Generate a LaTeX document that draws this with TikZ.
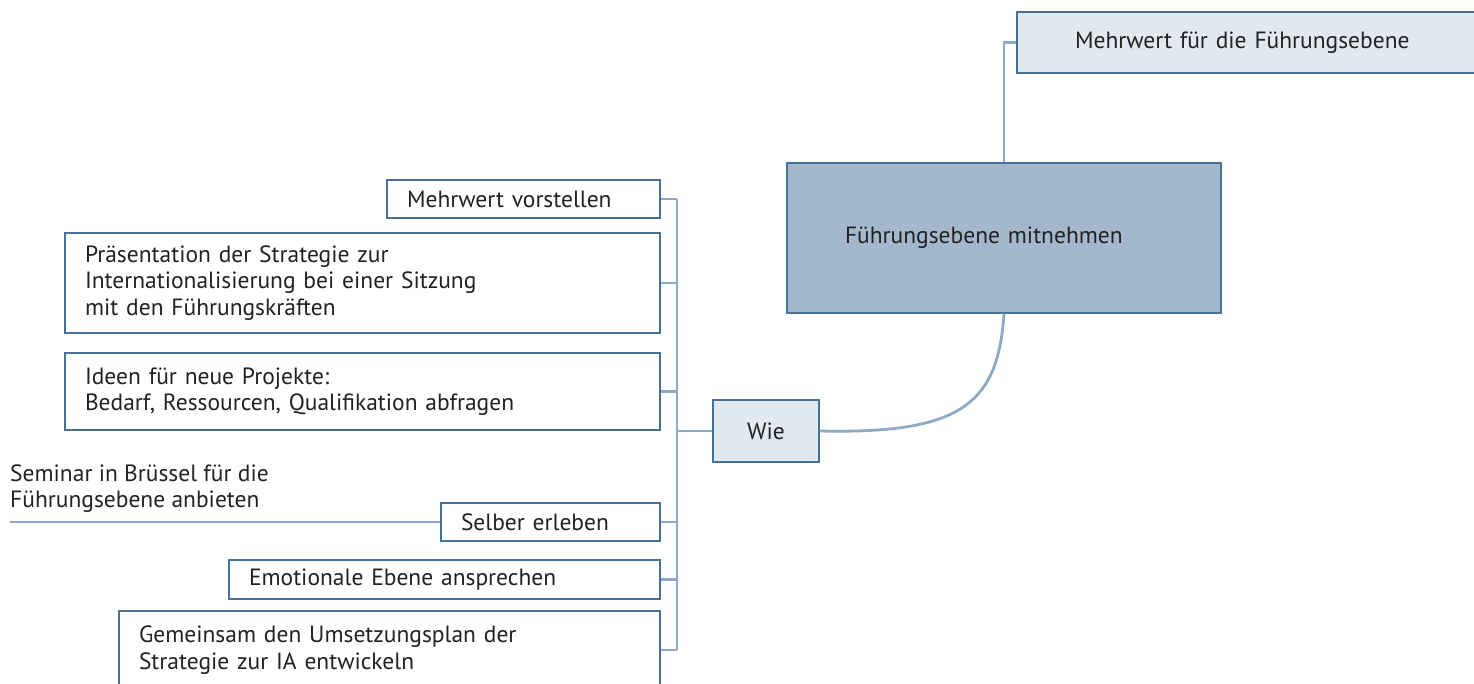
\documentclass[tikz,border=0pt]{standalone}
\usepackage{fontspec}
\setmainfont{PT Sans}
\definecolor{bordc}{HTML}{44709A}
\definecolor{linec}{HTML}{8EA9C3}
\definecolor{lightf}{HTML}{E1E8F0}
\definecolor{mainf}{HTML}{A3B8CD}
\definecolor{txt}{HTML}{222222}
\tikzset{
  box/.style={draw=bordc, line width=1.3pt, rectangle, inner ysep=0pt, align=left, text=txt,
    font=\fontsize{23.5}{26.5}\selectfont},
  conn/.style={draw=linec, line width=2.8pt},
}
\newcommand{\bx}[8]{% name, left, top, right, bottom, pad, fill, text
  \pgfmathsetmacro\bxtw{#4-#2-2*#6}%
  \pgfmathsetmacro\bxh{#5-#3}%
  \pgfmathsetmacro\bxcx{(#2+#4)/2}%
  \pgfmathsetmacro\bxcy{(#3+#5)/2}%
  \node[box, fill=#7, inner xsep=#6pt, text width=\bxtw pt, minimum height=\bxh pt]
    (#1) at (\bxcx,\bxcy) {#8};}
\begin{document}
\begin{tikzpicture}[x=1pt,y=-1pt]
\useasboundingbox (0,0) rectangle (1474,684);
\begin{scope}
\clip (0,0) rectangle (1474,684);
\coordinate (bus) at (677,0);
% boxes
\bx{top}{1017}{12}{1476}{73}{58}{lightf}{Mehrwert für die Führungsebene}
\bx{main}{787}{163}{1221}{313}{58}{mainf}{Führungsebene mitnehmen}
\node[box, fill=lightf, minimum width=106pt, minimum height=62pt, align=center] (wie) at (766,431) {Wie};
\bx{mv}{387}{180}{660}{218}{20}{white}{Mehrwert vorstellen}
\bx{pr}{65}{233}{660}{333}{20}{white}{Präsentation der Strategie zur\\Internationalisierung bei einer Sitzung\\mit den Führungskräften}
\bx{id}{65}{353}{660}{430}{20}{white}{Ideen für neue Projekte:\\Bedarf, Ressourcen, Qualifikation abfragen}
\bx{se}{441}{503}{660}{541}{20}{white}{Selber erleben}
\bx{em}{229}{560}{660}{599}{20}{white}{Emotionale Ebene ansprechen}
\bx{gm}{119}{611}{660}{689}{20}{white}{Gemeinsam den Umsetzungsplan der\\Strategie zur IA entwickeln}
\node[anchor=south west, inner sep=0pt, align=left, text=txt, font=\fontsize{23.5}{26.5}\selectfont] (sem) at (10,513) {Seminar in Brüssel für die\\Führungsebene anbieten};
\coordinate (semend) at (10,522);
% connectors
\draw[conn] (main.north) -- (main.north |- top.west) -- (top.west);
\draw[conn] (main.south) .. controls (998,405) and (960,434) .. (wie.east);
\draw[conn] (wie.west) -- (wie.west -| bus);
\draw[conn] (mv.east -| bus) -- (gm.east -| bus);
\foreach \n in {mv,pr,id,se,em,gm}{\draw[conn] (\n.east) -- (\n.east -| bus);}
\draw[conn] (se.west) -- (semend);
\end{scope}
\end{tikzpicture}
\end{document}
